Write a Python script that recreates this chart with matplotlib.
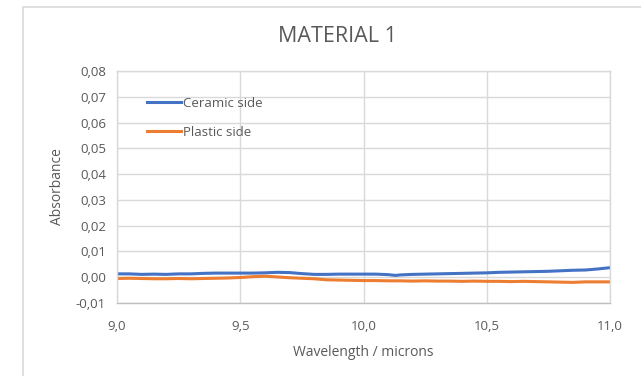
import matplotlib
matplotlib.use("Agg")
import matplotlib.pyplot as plt
from matplotlib.ticker import FuncFormatter, MultipleLocator
from matplotlib.patches import Rectangle

wavelength = [9.00, 9.05, 9.10, 9.15, 9.20, 9.25, 9.30, 9.35, 9.40, 9.45,
              9.50, 9.55, 9.60, 9.65, 9.70, 9.75, 9.80, 9.85, 9.90, 9.95,
              10.00, 10.05, 10.10, 10.13, 10.15, 10.20, 10.25, 10.30, 10.35, 10.40,
              10.45, 10.50, 10.55, 10.60, 10.65, 10.70, 10.75, 10.80, 10.85, 10.90,
              10.95, 11.00]
ceramic = [0.0013, 0.0013, 0.0011, 0.0012, 0.0011, 0.0013, 0.0013, 0.0015, 0.0016, 0.0016,
           0.0016, 0.0016, 0.0017, 0.0019, 0.0018, 0.0014, 0.0011, 0.0011, 0.0012, 0.0012,
           0.0012, 0.0012, 0.0010, 0.0007, 0.0009, 0.0011, 0.0012, 0.0013, 0.0014, 0.0015,
           0.0016, 0.0017, 0.0019, 0.0020, 0.0021, 0.0022, 0.0023, 0.0025, 0.0027, 0.0028,
           0.0032, 0.0037]
plastic = [-0.0005, -0.0004, -0.0005, -0.0006, -0.0006, -0.0005, -0.0006, -0.0005, -0.0004, -0.0003,
           -0.0001, 0.0002, 0.0004, 0.0001, -0.0002, -0.0004, -0.0006, -0.0010, -0.0011, -0.0012,
           -0.0013, -0.0013, -0.0014, -0.0014, -0.0014, -0.0015, -0.0014, -0.0015, -0.0015, -0.0016,
           -0.0015, -0.0016, -0.0016, -0.0017, -0.0016, -0.0017, -0.0018, -0.0019, -0.0020, -0.0018,
           -0.0018, -0.0018]

title = "MATERIAL 1"
xlabel = "Wavelength / microns"
ylabel = "Absorbance"
series_names = ["Ceramic side", "Plastic side"]

plt.rcParams['font.family'] = ['Open Sans', 'DejaVu Sans']

W, H = 641, 376
fig = plt.figure(figsize=(W / 100, H / 100), dpi=100)
border = Rectangle((23 / W, -0.1), 1.2, 1 - 7 / H + 0.1, transform=fig.transFigure,
                   facecolor='white', edgecolor='#d9d9d9', linewidth=1.2, zorder=-10)
fig.patches.append(border)

ax = fig.add_axes([117 / W, 1 - 303 / H, (610 - 117) / W, (303 - 71) / H])
ax.set_zorder(5)
ax.set_facecolor('none')
ax.plot(wavelength, ceramic, color='#4472C4', linewidth=2.2, label=series_names[0])
ax.plot(wavelength, plastic, color='#ED7D31', linewidth=2.2, label=series_names[1])

ax.set_xlim(9.0, 11.0)
ax.set_ylim(-0.01, 0.08)
ax.xaxis.set_major_locator(MultipleLocator(0.5))
ax.yaxis.set_major_locator(MultipleLocator(0.01))
ax.xaxis.set_major_formatter(FuncFormatter(lambda v, p: f"{v:.1f}".replace('.', ',')))
ax.yaxis.set_major_formatter(FuncFormatter(lambda v, p: f"{v:.2f}".replace('.', ',').replace('-0,00', '0,00')))
ax.grid(True, color='#d9d9d9', linewidth=1)
ax.set_axisbelow(True)
for s in ax.spines.values():
    s.set_color('#d9d9d9')
    s.set_linewidth(1)
ax.spines['bottom'].set_color('#bfbfbf')
ax.tick_params(length=0, labelsize=9.5, colors='#595959', pad=8)
ax.tick_params(axis='x', pad=12)

ax.set_xlabel(xlabel, fontsize=10, color='#595959', labelpad=9)
ax.set_ylabel(ylabel, fontsize=10, color='#595959', labelpad=8)

fig.text(337 / W, 1 - 36 / H, title, ha='center', va='center', fontsize=15.5, color='#595959')

leg = ax.legend(loc='upper left', bbox_to_anchor=(0.061, 0.888), frameon=False,
                fontsize=9.5, handlelength=2.6, handletextpad=0.1, labelspacing=1.2,
                borderaxespad=0, borderpad=0)
for t in leg.get_texts():
    t.set_color('#595959')

fig.savefig('out.png', dpi=100)
